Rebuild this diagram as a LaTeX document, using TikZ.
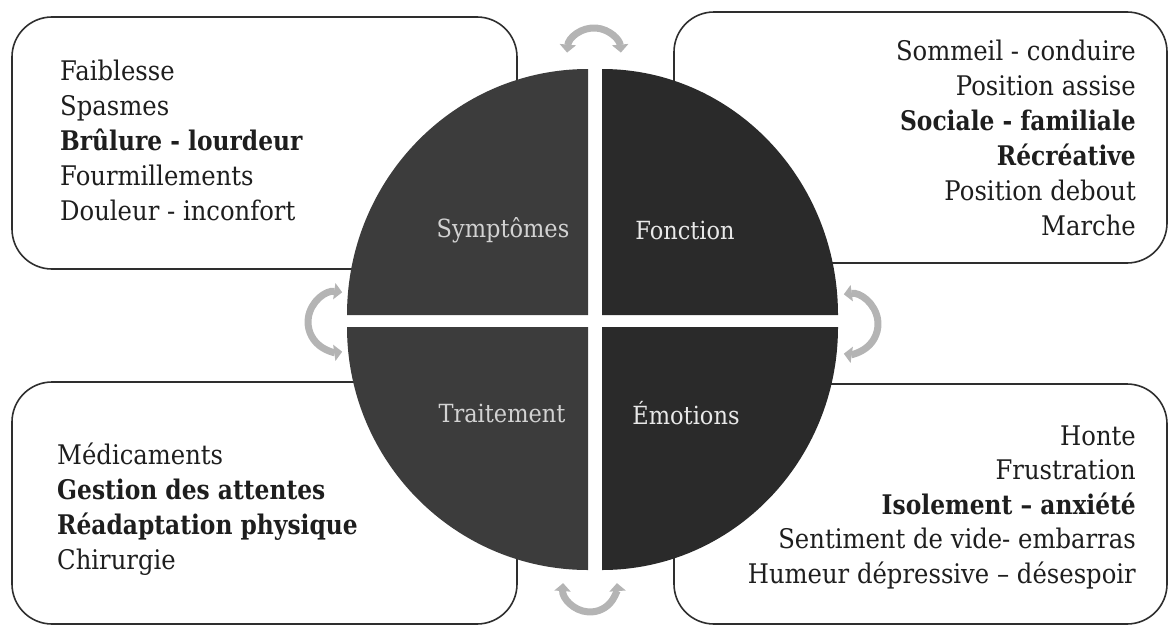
\documentclass[tikz,border=0pt]{standalone}
\usepackage{fontspec}
\setmainfont{DejaVu Serif}[FakeStretch=0.9,BoldFeatures={FakeStretch=0.865}]
\usetikzlibrary{arrows.meta}

\definecolor{quadL}{HTML}{3C3C3C}
\definecolor{quadR}{HTML}{2A2A2A}
\definecolor{labL}{HTML}{D2D2D2}
\definecolor{labR}{HTML}{E8E8E8}
\definecolor{ink}{HTML}{1E1E1E}
\definecolor{frame}{HTML}{2E2E2E}
\definecolor{loop}{HTML}{B4B4B4}

\begin{document}
\begin{tikzpicture}[x=1pt,y=-1pt,
  panel/.style={draw=frame,line width=1.6pt,rounded corners=40pt,fill=white,inner sep=0pt},
  item/.style={inner sep=0pt,text=ink,font=\fontsize{27}{27}\selectfont},
  quadlabel/.style={inner sep=0pt,font=\fontsize{25}{25}\selectfont},
  cyc/.style={draw=loop,line width=7pt,
    {Triangle[length=8pt,width=16pt]}-{Triangle[length=8pt,width=16pt]}}]

\useasboundingbox (0,0) rectangle (1169,629);

% four framed panels behind the disc
\node[panel,minimum width=505pt,minimum height=252pt] (boxS) at (264.5,143) {};
\node[panel,minimum width=493pt,minimum height=251pt] (boxF) at (920.5,137.5) {};
\node[panel,minimum width=505pt,minimum height=242pt] (boxT) at (264.5,503) {};
\node[panel,minimum width=493pt,minimum height=240pt] (boxE) at (920.5,504) {};

% disc split into four quadrants
\fill[quadL] (588,315) -- ++(-241,0) arc[start angle=180,end angle=270,x radius=241,y radius=246] -- cycle;
\fill[quadR] (602,315) -- ++(0,-246) arc[start angle=270,end angle=360,x radius=236,y radius=246] -- cycle;
\fill[quadL] (588,327) -- ++(-241,0) arc[start angle=180,end angle=90,x radius=241,y radius=243] -- cycle;
\fill[quadR] (602,327) -- ++(236,0) arc[start angle=0,end angle=90,x radius=236,y radius=243] -- cycle;

% quadrant titles
\node[quadlabel,text=labL] (qS) at (503,230) {Symptômes};
\node[quadlabel,text=labR] (qF) at (685,230) {Fonction};
\node[quadlabel,text=labL] (qT) at (502,413) {Traitement};
\node[quadlabel,text=labR] (qE) at (686,413) {Émotions};

% curved arrows between neighbouring quadrants
\coordinate (aTop) at (567.1,52.6);
\coordinate (aRight) at (843.8,294.3);
\coordinate (aBottom) at (563.1,583.1);
\coordinate (aLeft) at (342.2,292.3);
\draw[cyc] (aTop) arc[start angle=185,end angle=355,radius=27];
\draw[cyc] (aRight) arc[start angle=262,end angle=458,radius=30];
\draw[cyc] (aBottom) arc[start angle=184,end angle=-4,radius=27];
\draw[cyc] (aLeft) arc[start angle=278,end angle=82,radius=30];

% Symptômes list
\foreach \t [count=\i] in {Faiblesse,Spasmes,{\bfseries Brûlure - lourdeur},Fourmillements,Douleur - inconfort}{
  \pgfmathsetmacro{\yy}{80+35*(\i-1)}
  \node[item,anchor=base west] (s\i) at (60,\yy) {\t};
}

% Fonction list
\foreach \t [count=\i] in {Sommeil - conduire,Position assise,{\bfseries Sociale - familiale},{\bfseries Récréative},Position debout,Marche}{
  \pgfmathsetmacro{\yy}{60+35*(\i-1)}
  \node[item,anchor=base east] (f\i) at (1136,\yy) {\t};
}

% Traitement list
\foreach \t [count=\i] in {Médicaments,{\bfseries Gestion des attentes},{\bfseries Réadaptation physique},Chirurgie}{
  \pgfmathsetmacro{\yy}{464+35*(\i-1)}
  \node[item,anchor=base west] (t\i) at (57,\yy) {\t};
}

% Émotions list
\foreach \t [count=\i] in {Honte,Frustration,{\bfseries Isolement – anxiété},Sentiment de vide- embarras,Humeur dépressive – désespoir}{
  \pgfmathsetmacro{\yy}{445+34.5*(\i-1)}
  \node[item,anchor=base east] (e\i) at (1136,\yy) {\t};
}
\end{tikzpicture}
\end{document}
